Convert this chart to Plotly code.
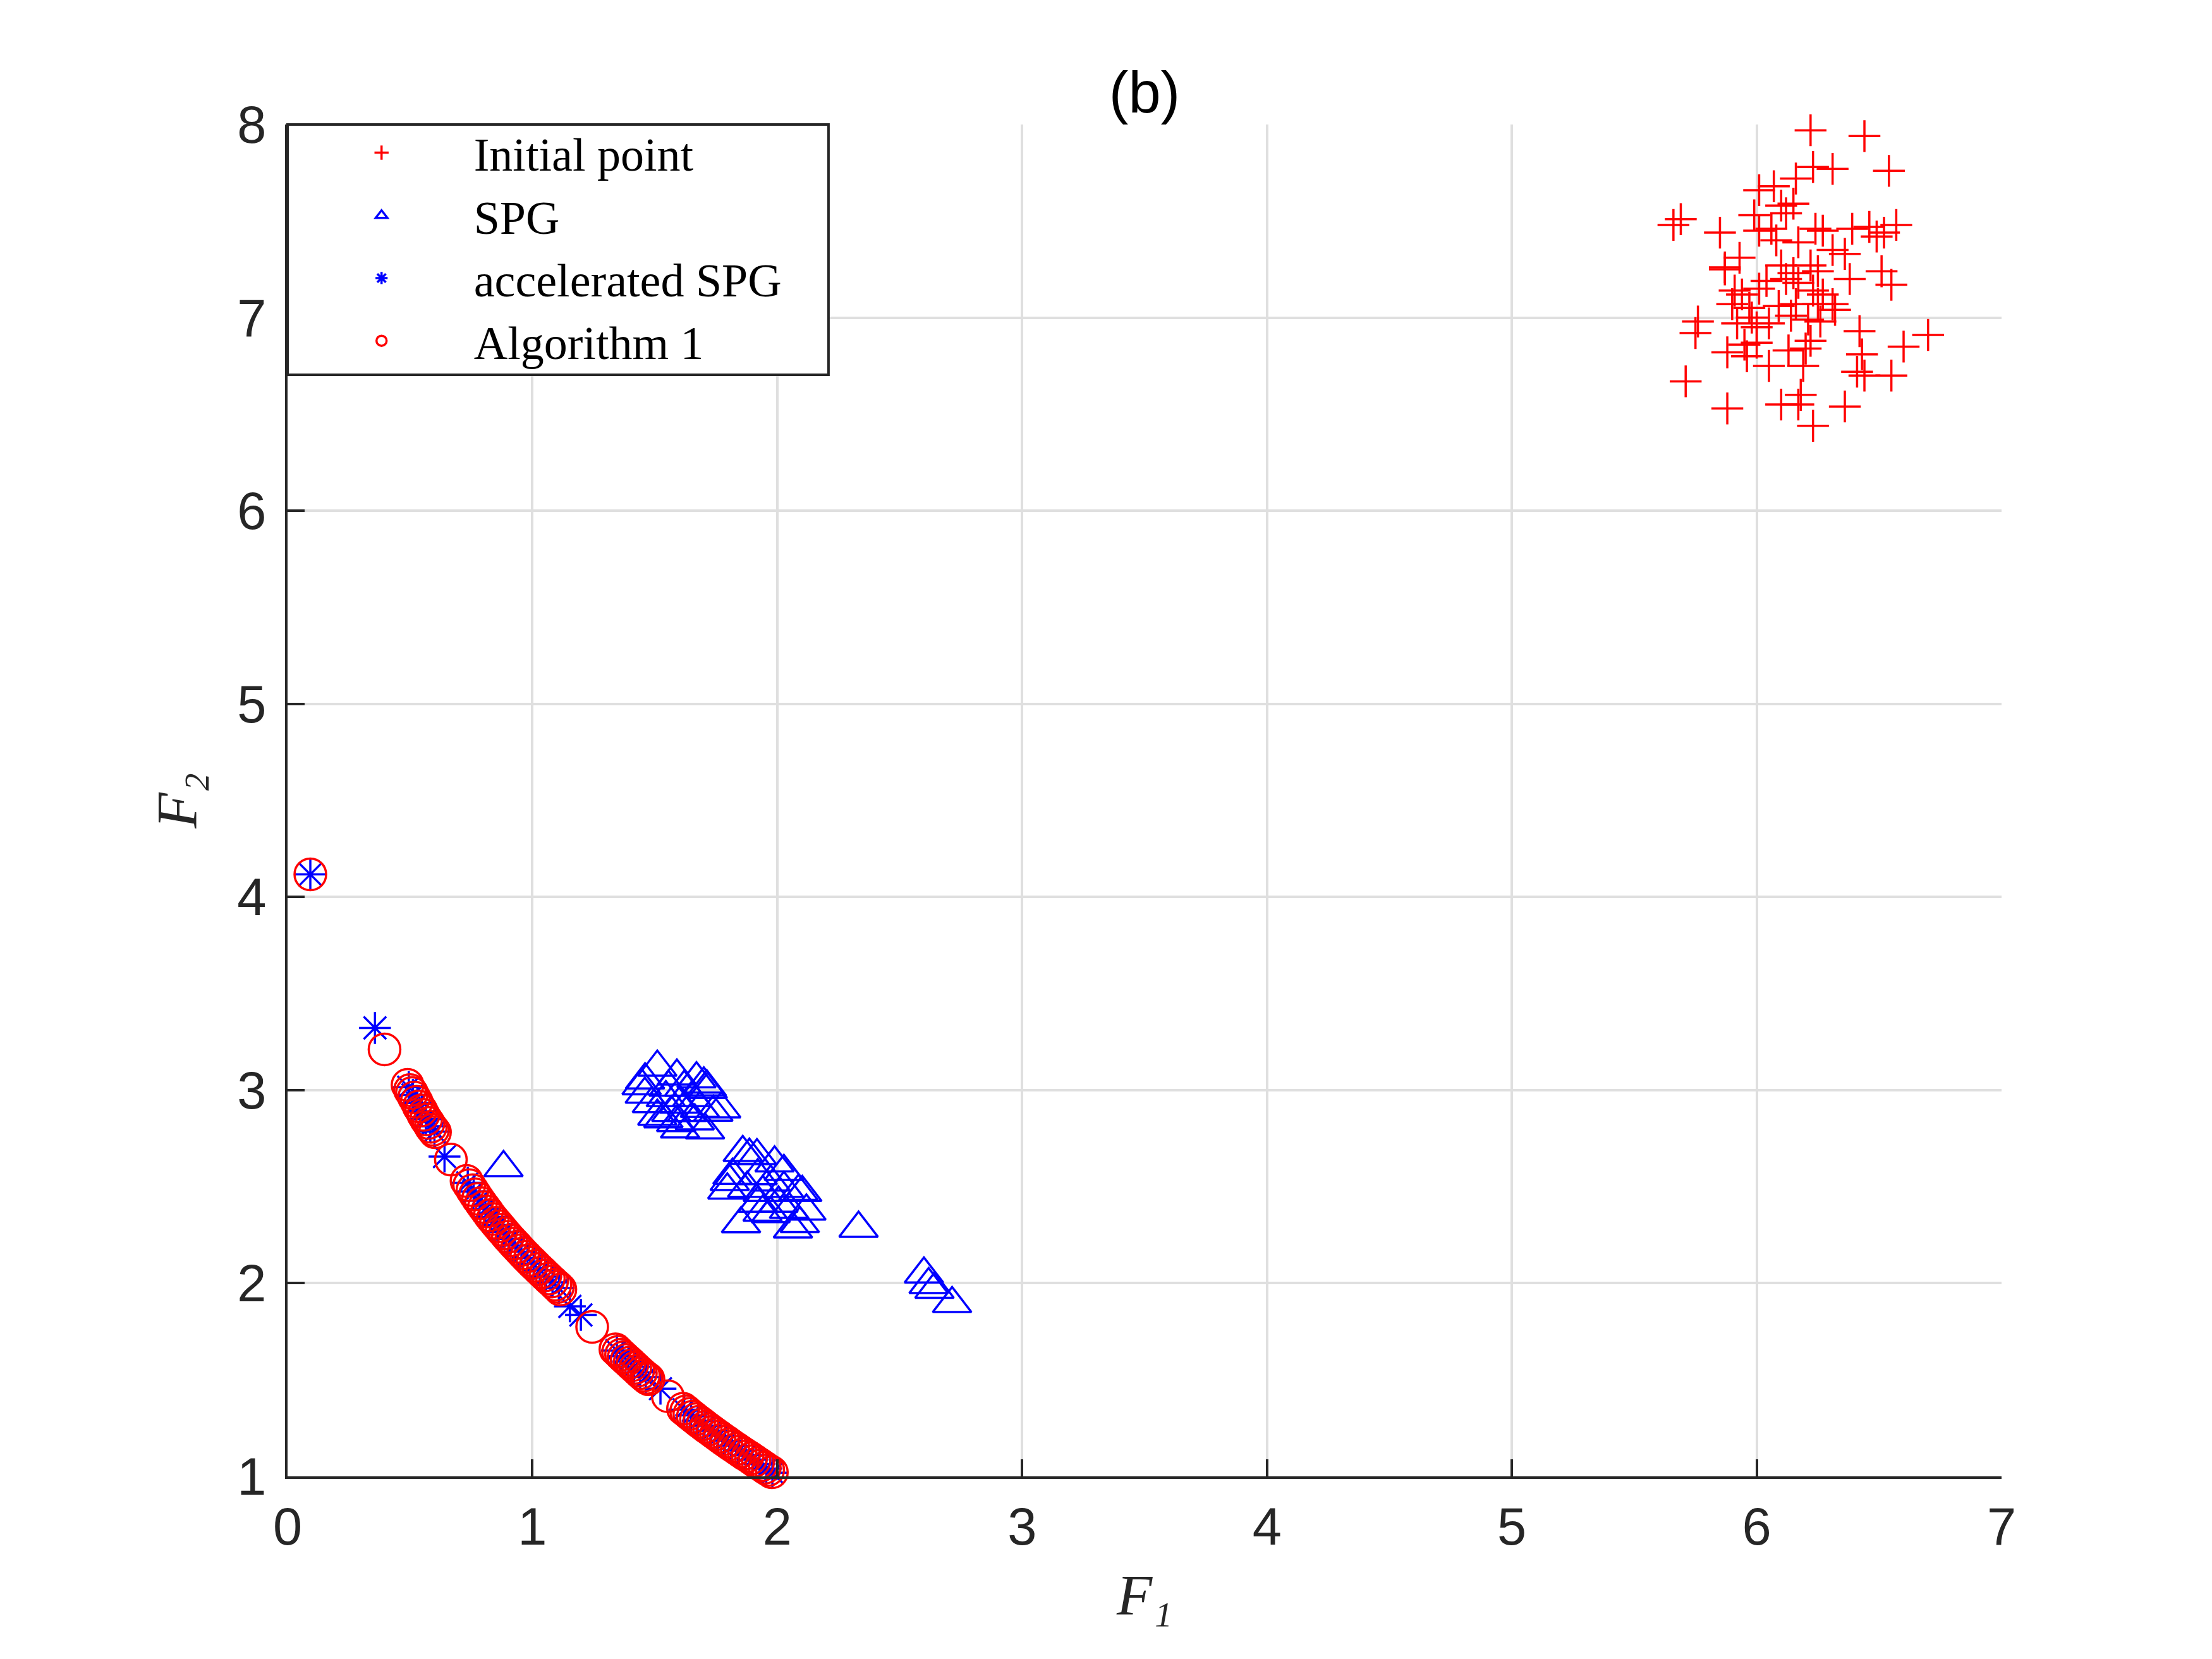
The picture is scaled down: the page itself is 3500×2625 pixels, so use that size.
import plotly.graph_objects as go

# --- dados (b) ---
# pontos iniciais (+)
init_x = [6.22, 6.44, 6.23, 6.31, 6.54, 6.16, 6.01, 6.07, 6.10, 6.15,
          6.12, 5.66, 5.69, 5.85, 5.99, 6.01, 6.06, 6.08, 6.17, 6.24,
          6.27, 6.39, 6.46, 6.49, 6.52, 6.57, 6.31, 6.36, 5.93, 5.87,
          5.87, 6.10, 6.15, 6.22, 6.25, 6.38, 6.51, 6.55, 5.91, 5.94,
          5.90, 6.01, 6.04, 6.12, 6.17, 6.23, 6.27, 6.31, 6.32, 5.76,
          5.75, 5.92, 5.98, 6.00, 6.05, 6.14, 6.21, 6.26, 6.42, 6.70,
          6.60, 6.43, 5.88, 5.95, 6.00, 6.05, 6.13, 6.19, 6.20, 6.22,
          6.41, 6.44, 6.55, 5.71, 5.88, 6.10, 6.17, 6.18, 6.36, 6.23,
          5.97, 6.09, 6.25, 6.16, 5.96]
init_y = [7.97, 7.94, 7.78, 7.77, 7.76, 7.72, 7.66, 7.68, 7.58, 7.59,
          7.54, 7.48, 7.51, 7.44, 7.53, 7.45, 7.46, 7.40, 7.39, 7.46,
          7.45, 7.46, 7.47, 7.42, 7.44, 7.48, 7.35, 7.33, 7.31, 7.25,
          7.26, 7.27, 7.23, 7.27, 7.24, 7.20, 7.24, 7.17, 7.14, 7.12,
          7.07, 7.15, 7.19, 7.20, 7.18, 7.14, 7.12, 7.07, 7.04, 6.98,
          6.92, 6.97, 7.00, 6.95, 6.97, 7.01, 6.99, 6.98, 6.93, 6.91,
          6.85, 6.81, 6.82, 6.86, 6.87, 6.75, 6.83, 6.75, 6.84, 6.88,
          6.72, 6.70, 6.70, 6.67, 6.53, 6.55, 6.55, 6.60, 6.54, 6.44,
          7.05, 7.06, 7.07, 7.07, 6.80]

# SPG (triangulos)
spg_x = [1.446, 1.460, 1.510, 1.590, 1.670, 1.700, 1.716, 1.771, 1.459, 1.488,
         1.510, 1.587, 1.603, 1.705, 1.739, 1.712, 1.545, 1.599, 1.631, 1.567,
         1.652, 1.620, 1.556, 1.535, 1.663, 1.684,
         0.882,
         1.859, 1.886, 1.917, 1.989, 2.086, 2.102, 1.796, 1.806, 1.817, 2.119,
         1.940, 1.852, 2.092, 2.064, 1.920, 1.973, 2.027, 1.941, 2.005, 1.877,
         2.048, 1.973, 2.027, 1.920,
         2.332,
         2.599, 2.618, 2.642, 2.714]
spg_y = [3.022, 3.052, 3.118, 3.072, 3.058, 3.031, 3.003, 2.902, 2.978, 2.929,
         2.864, 2.831, 2.798, 2.793, 2.885, 3.016, 2.960, 2.927, 2.883, 2.883,
         2.960, 3.014, 3.014, 2.851, 2.840, 2.905,
         2.598,
         2.676, 2.662, 2.660, 2.622, 2.475, 2.469, 2.482, 2.526, 2.558, 2.373,
         2.367, 2.307, 2.308, 2.280, 2.556, 2.523, 2.491, 2.469, 2.414, 2.491,
         2.382, 2.360, 2.578, 2.414,
         2.284,
         2.047, 1.992, 1.968, 1.894]

# accelerated SPG (asteriscos)
acc_x = [0.093, 0.357, 0.495, 0.512, 0.530, 0.548, 0.565, 0.583, 0.600, 0.641,
         0.736, 0.760, 0.784, 0.808, 0.832, 0.857, 0.881, 0.905, 0.930, 0.955,
         0.980, 1.005, 1.030, 1.056, 1.082, 1.108, 1.153, 1.198, 1.345, 1.368,
         1.392, 1.415, 1.440, 1.463, 1.523, 1.620, 1.648, 1.675, 1.703, 1.731,
         1.759, 1.787, 1.815, 1.843, 1.871, 1.899, 1.927, 1.955, 1.980, 2.005]
acc_y = [4.117, 3.322, 3.015, 2.975, 2.933, 2.890, 2.850, 2.813, 2.785, 2.656,
         2.520, 2.475, 2.428, 2.384, 2.343, 2.302, 2.266, 2.230, 2.195, 2.163,
         2.130, 2.100, 2.068, 2.034, 2.005, 1.975, 1.880, 1.836, 1.651, 1.623,
         1.595, 1.568, 1.538, 1.514, 1.454, 1.345, 1.316, 1.288, 1.262, 1.236,
         1.210, 1.184, 1.159, 1.134, 1.110, 1.087, 1.064, 1.040, 1.019, 0.995]

# Algorithm 1 (circulos)
alg_x = [0.093, 0.396,
         0.490, 0.500, 0.508, 0.517, 0.527, 0.536, 0.546, 0.555, 0.566, 0.576,
         0.585, 0.594, 0.602,
         0.667,
         0.731, 0.742, 0.755, 0.766, 0.778, 0.790, 0.802, 0.815, 0.826, 0.838,
         0.851, 0.863, 0.875, 0.888, 0.900, 0.913, 0.925, 0.938, 0.950, 0.962,
         0.975, 0.988, 1.000, 1.013, 1.026, 1.040, 1.053, 1.067, 1.080, 1.094,
         1.104, 1.114,
         1.244,
         1.339, 1.350, 1.362, 1.373, 1.385, 1.397, 1.408, 1.420, 1.432, 1.443,
         1.455, 1.466, 1.474,
         1.553,
         1.615, 1.628, 1.641, 1.655, 1.668, 1.681, 1.695, 1.708, 1.722, 1.736,
         1.750, 1.764, 1.778, 1.792, 1.806, 1.820, 1.835, 1.850, 1.864, 1.879,
         1.893, 1.907, 1.921, 1.935, 1.949, 1.963, 1.978]
alg_y = [4.117, 3.211,
         3.027, 3.000, 2.985, 2.962, 2.940, 2.915, 2.895, 2.872, 2.848, 2.830,
         2.810, 2.795, 2.782,
         2.640,
         2.530, 2.508, 2.482, 2.460, 2.437, 2.415, 2.394, 2.372, 2.352, 2.333,
         2.313, 2.295, 2.277, 2.258, 2.240, 2.222, 2.205, 2.188, 2.171, 2.155,
         2.138, 2.121, 2.106, 2.090, 2.074, 2.057, 2.041, 2.024, 2.009, 1.992,
         1.981, 1.968,
         1.774,
         1.658, 1.645, 1.630, 1.617, 1.603, 1.589, 1.576, 1.562, 1.548, 1.535,
         1.522, 1.510, 1.503,
         1.415,
         1.350, 1.337, 1.323, 1.309, 1.296, 1.283, 1.270, 1.257, 1.244, 1.231,
         1.218, 1.205, 1.192, 1.180, 1.167, 1.155, 1.142, 1.129, 1.117, 1.105,
         1.093, 1.081, 1.069, 1.057, 1.045, 1.033, 1.021]

x_ticks = [0, 1, 2, 3, 4, 5, 6, 7]
y_ticks = [1, 2, 3, 4, 5, 6, 7, 8]

RED = "#ff0000"
BLUE = "#0000ff"
AX = "#262626"
LW = 3.5
W, H = 3492, 2617   # a pagina tem 8px de margem no body

fig = go.Figure()

fig.add_trace(go.Scatter(
    x=init_x, y=init_y, mode="markers", name="Initial point", cliponaxis=False,
    marker=dict(symbol="cross-thin", size=36, color=RED, line=dict(width=LW, color=RED))
))
fig.add_trace(go.Scatter(
    x=spg_x, y=spg_y, mode="markers", name="SPG", cliponaxis=False,
    marker=dict(symbol="triangle-up-open", size=53, color=BLUE, line=dict(width=LW, color=BLUE))
))
fig.add_trace(go.Scatter(
    x=acc_x, y=acc_y, mode="markers", name="accelerated SPG", cliponaxis=False,
    marker=dict(symbol="asterisk-open", size=42, color=BLUE, line=dict(width=LW, color=BLUE))
))
fig.add_trace(go.Scatter(
    x=alg_x, y=alg_y, mode="markers", name="Algorithm 1", cliponaxis=False,
    marker=dict(symbol="circle-open", size=50, color=RED, line=dict(width=LW, color=RED))
))

axis_common = dict(
    showgrid=True, gridcolor="#dfdfdf", gridwidth=4,
    zeroline=False,
    showline=True, linecolor=AX, linewidth=4, mirror=False,
    ticks="inside", ticklen=27, tickwidth=4, tickcolor=AX,
    tickfont=dict(family="Liberation Sans, Arial, sans-serif", size=83, color=AX),
)
label_font = dict(family="Liberation Serif, serif", size=92, color=AX, style="italic")

fig.update_xaxes(
    range=[0, 7], tickvals=x_ticks, ticklabelstandoff=4,
    title=dict(text="F₁", standoff=31, font=label_font),
    **axis_common
)
fig.update_yaxes(
    range=[1, 8], tickvals=y_ticks, ticklabelstandoff=13,
    title=dict(text="F₂", standoff=34, font=label_font),
    **axis_common
)

# caixa da legenda (estilo MATLAB)
fig.add_shape(type="rect", xref="paper", yref="paper",
              x0=0, x1=0.3156, y0=0.8149, y1=1,
              line=dict(color=AX, width=4), fillcolor="white", layer="above")

fig.update_layout(
    width=W, height=H,
    margin=dict(l=447, r=333, t=189, b=289),
    paper_bgcolor="white", plot_bgcolor="white",
    title=dict(text="(b)", x=0.5, xref="paper", xanchor="center",
               y=1 - 138 / H, yref="container", yanchor="middle",
               font=dict(family="Liberation Sans, Arial, sans-serif", size=92, color="black")),
    showlegend=True,
    legend=dict(x=0.001, y=1.0047, xanchor="left", yanchor="top",
                bgcolor="rgba(0,0,0,0)", borderwidth=0,
                itemwidth=282, itemsizing="trace",
                font=dict(family="Liberation Serif, serif", size=74, color="black")),
)

fig.write_html("out.html")
